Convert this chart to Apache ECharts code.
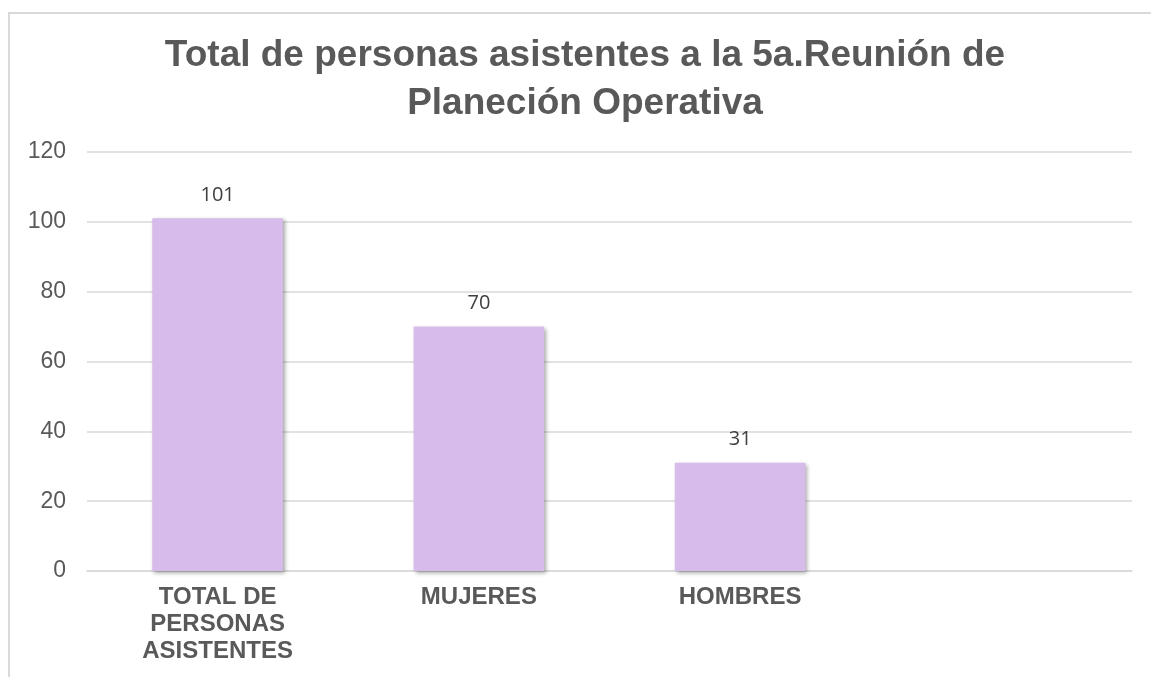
<!DOCTYPE html>
<html>
<head>
<meta charset="utf-8">
<script src="https://cdn.jsdelivr.net/npm/echarts@6/dist/echarts.min.js"></script>
<style>
  html, body { margin: 0; padding: 0; background: #fff; }
  #frame { position: absolute; left: 8px; top: 12px; right: 0; bottom: 0;
           border-left: 2px solid #d9d9d9; border-top: 2px solid #d9d9d9; }
  #chart { position: absolute; left: 0; top: 0; width: 1151px; height: 677px; }
</style>
</head>
<body>
<div id="frame"></div>
<div id="chart"></div>
<script>
// datos
const categorias = ['TOTAL DE\nPERSONAS\nASISTENTES', 'MUJERES', 'HOMBRES', '']
const asistentes = [101, 70, 31, null]
const ejeY = { min: 0, max: 120, interval: 20 }

const chart = echarts.init(document.getElementById('chart'))
chart.setOption({
  animation: false,
  title: {
    text: 'Total de personas asistentes a la 5a.Reunión de\nPlaneción Operativa',
    left: 580,
    top: 27,
    textAlign: 'center',
    textStyle: {
      fontFamily: 'Liberation Sans, Arial',
      fontWeight: 'bold',
      fontSize: 37,
      lineHeight: 48,
      color: '#595959'
    }
  },
  grid: { left: 87, right: 19, top: 152, bottom: 106 },
  xAxis: {
    type: 'category',
    data: categorias,
    axisLine: { lineStyle: { color: '#d9d9d9', width: 1.5 } },
    axisTick: { show: false },
    axisLabel: {
      margin: 13,
      interval: 0,
      fontFamily: 'Liberation Sans, Arial',
      fontWeight: 'bold',
      fontSize: 24,
      lineHeight: 27,
      color: '#595959'
    }
  },
  yAxis: {
    type: 'value',
    min: ejeY.min,
    max: ejeY.max,
    interval: ejeY.interval,
    axisLine: { show: false },
    axisTick: { show: false },
    splitLine: { lineStyle: { color: '#d9d9d9', width: 1.5 } },
    axisLabel: {
      margin: 21,
      fontFamily: 'Liberation Sans, Arial',
      fontSize: 23,
      color: '#595959'
    }
  },
  series: [{
    type: 'bar',
    data: asistentes,
    barWidth: '50%',
    itemStyle: {
      color: '#d7bbea',
      shadowColor: 'rgba(0,0,0,0.35)',
      shadowBlur: 4,
      shadowOffsetX: 2,
      shadowOffsetY: 2
    },
    label: {
      show: true,
      position: 'top',
      distance: 13,
      fontFamily: 'Open Sans',
      fontSize: 20,
      color: '#404040'
    }
  }]
})
</script>
</body>
</html>
